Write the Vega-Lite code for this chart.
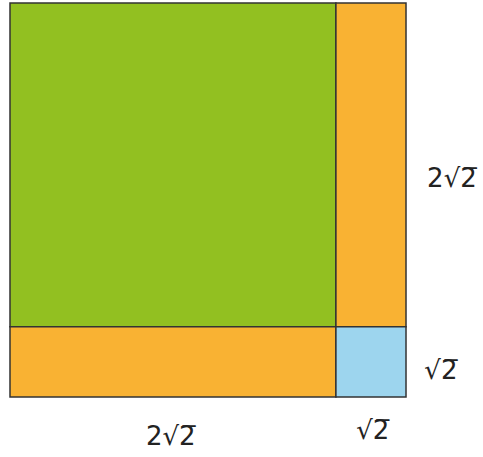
{
  "$schema": "https://vega.github.io/schema/vega-lite/v6.json",
  "width": 483,
  "height": 457,
  "autosize": {"type": "fit", "contains": "padding"},
  "padding": 0,
  "background": "white",
  "config": {"view": {"stroke": null}},
  "layer": [
    {
      "data": {"values": [
        {"part": "green", "x0": 0, "x1": 82.3, "y0": 0, "y1": 82.2},
        {"part": "right", "x0": 82.3, "x1": 100, "y0": 0, "y1": 82.2},
        {"part": "bottom", "x0": 0, "x1": 82.3, "y0": 82.2, "y1": 100},
        {"part": "blue", "x0": 82.3, "x1": 100, "y0": 82.2, "y1": 100}
      ]},
      "mark": {"type": "rect", "stroke": "#333333", "strokeWidth": 1.5},
      "encoding": {
        "x": {"field": "x0", "type": "quantitative", "scale": {"domain": [-2.525, 119.44], "nice": false, "zero": false}, "axis": null},
        "x2": {"field": "x1"},
        "y": {"field": "y0", "type": "quantitative", "scale": {"domain": [-0.76, 115.23], "reverse": true, "nice": false, "zero": false}, "axis": null},
        "y2": {"field": "y1"},
        "color": {"field": "part", "type": "nominal", "scale": {"domain": ["green", "right", "bottom", "blue"], "range": ["#92C021", "#F9B233", "#F9B233", "#9DD5EE"]}, "legend": null}
      }
    },
    {
      "data": {"values": [
        {"label": "2√2̅", "lx": 111.6, "ly": 44.6},
        {"label": "√2̅", "lx": 108.8, "ly": 93.3},
        {"label": "2√2̅", "lx": 40.6, "ly": 110.2},
        {"label": "√2̅", "lx": 91.6, "ly": 108.6}
      ]},
      "mark": {"type": "text", "font": "DejaVu Sans", "fontSize": 26, "color": "#222222", "align": "center", "baseline": "middle"},
      "encoding": {
        "x": {"field": "lx", "type": "quantitative"},
        "y": {"field": "ly", "type": "quantitative"},
        "text": {"field": "label"}
      }
    }
  ]
}
